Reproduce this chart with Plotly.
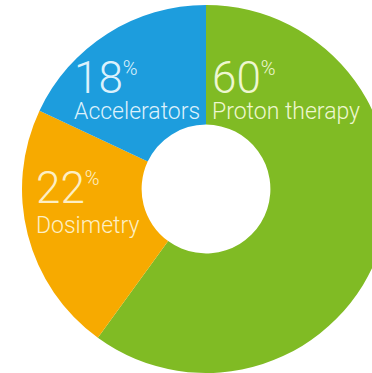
import plotly.graph_objects as go

# Market share by segment
labels = ["Proton therapy", "Dosimetry", "Accelerators"]
values = [60, 22, 18]
colors = ["#80bb24", "#f7aa00", "#1d9ddd"]
text_colors = ["#eef7d0", "#fdefc4", "#dcf1fc"]

W, H = 410, 373  # canvas is a little wider than the view so the ring runs off the right edge
cx, cy, r = 206, 189, 184

fig = go.Figure(go.Pie(
    labels=labels,
    values=values,
    marker=dict(colors=colors, line=dict(width=0)),
    hole=0.35,
    sort=False,
    direction="clockwise",
    rotation=0,
    textinfo="none",
    hoverinfo="label+percent",
    showlegend=False,
    domain=dict(x=[(cx - r) / W, (cx + r) / W], y=[1 - (cy + r) / H, 1 - (cy - r) / H]),
))

# label placement (pixel positions of the left edge / vertical centre of each text line)
num_pos = {"Proton therapy": (210, 78), "Dosimetry": (34, 188), "Accelerators": (72, 78)}
name_pos = {"Proton therapy": (210, 112), "Dosimetry": (34, 226), "Accelerators": (72, 112)}

font_family = "Roboto, Liberation Sans, sans-serif"
for lab, val, tc in zip(labels, values, text_colors):
    nx, ny = num_pos[lab]
    fig.add_annotation(
        x=nx / W, y=1 - ny / H, xref="paper", yref="paper",
        xanchor="left", yanchor="middle", showarrow=False,
        text=f"{val}<sup><span style='font-size:20px'>%</span></sup>",
        font=dict(family=font_family, size=44, color=tc, weight=300),
    )
    lx, ly = name_pos[lab]
    fig.add_annotation(
        x=lx / W, y=1 - ly / H, xref="paper", yref="paper",
        xanchor="left", yanchor="middle", showarrow=False,
        text=lab,
        font=dict(family=font_family, size=23, color=tc, weight=300),
    )

fig.update_layout(
    width=W, height=H,
    margin=dict(l=0, r=0, t=0, b=0),
    paper_bgcolor="white",
    plot_bgcolor="white",
)

fig.write_html(
    "out.html",
    post_script="document.documentElement.style.overflow='hidden';document.body.style.overflow='hidden';document.body.style.margin='0';",
)
